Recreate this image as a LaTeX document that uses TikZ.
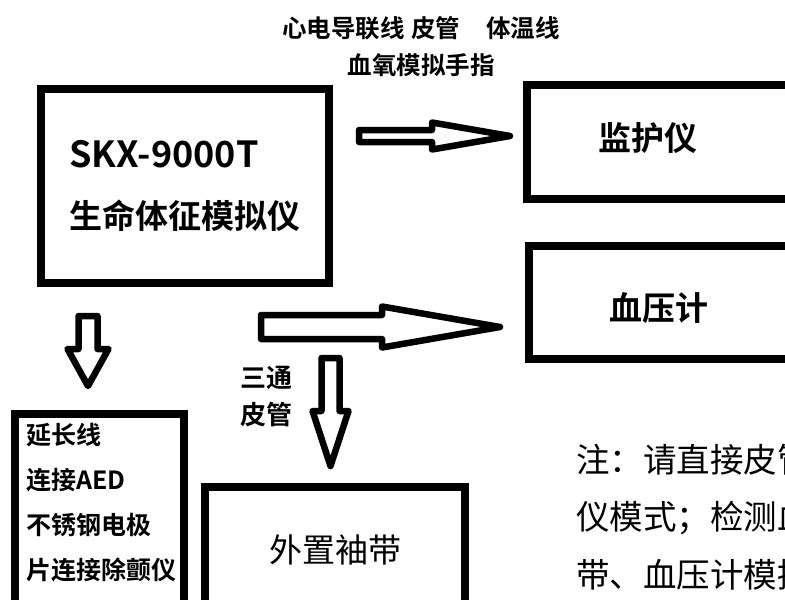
\documentclass[tikz,border=0pt]{standalone}
\usepackage{fontspec}
\setmainfont{Noto Sans CJK SC}[BoldFont={* Bold}]
\usetikzlibrary{calc}

% 空心箭头：起点，终点，杆半宽，头半宽，头长
\newcommand{\hollowarrow}[5]{%
  \path ($(#2)!#5!(#1)$) coordinate (hb);
  \draw[hollow] ($(#1)!#3!90:(#2)$) -- ($(hb)!#3!90:(#2)$) -- ($(hb)!#4!90:(#2)$) -- (#2)
    -- ($(hb)!#4!-90:(#2)$) -- ($(hb)!#3!-90:(#2)$) -- ($(#1)!#3!-90:(#2)$) -- cycle;%
}

\begin{document}
\begin{tikzpicture}[x=1pt, y=-1pt, every node/.style={align=center, inner sep=0pt}]
    % 样式
    \tikzstyle{device} = [rectangle, draw=black, line width=8pt]
    \tikzstyle{hollow} = [draw=black, line width=6.5pt, line join=round]
    \tikzstyle{title} = [font=\fontsize{33pt}{61pt}\selectfont\bfseries]
    \tikzstyle{cable} = [font=\fontsize{24.5pt}{37pt}\selectfont\bfseries]
    \tikzstyle{list} = [font=\fontsize{25pt}{45pt}\selectfont\bfseries]
    \tikzstyle{remark} = [font=\fontsize{33.5pt}{57.5pt}\selectfont]

    \useasboundingbox (0,0) rectangle (785,600);
    \clip (0,0) rectangle (785,600);

    % 设备方框
    \node[device, title, align=left, minimum width=288pt, minimum height=194pt] (sim) at (185,186) {\fontsize{36pt}{61pt}\selectfont SKX-9000T\\生命体征模拟仪};
    \node[device, minimum width=273pt, minimum height=114pt,
      label={[title, xshift=-15.5pt, yshift=4pt]center:监护仪}] (mon) at (663.5,142) {};
    \node[device, minimum width=271pt, minimum height=113pt,
      label={[title, xshift=-5.5pt, yshift=-5.5pt]center:血压计}] (bp) at (664.5,302.5) {};
    \node[device, minimum width=169pt, minimum height=206pt,
      label={[list, anchor=north west, align=left, xshift=15pt, yshift=-12.5pt]north west:延长线\\连接AED\\不锈钢电极\\片连接除颤仪}] (ext) at (99.5,517) {};
    \node[device, font=\fontsize{33pt}{40pt}\selectfont, minimum width=260pt, minimum height=126pt] (cuff) at (335,550) {外置袖带};

    % 文字说明
    \node[cable] (leads) at (421,46.5) {心电导联线\hspace{7pt}皮管\hspace{26pt}体温线\\血氧模拟手指};
    \node[font=\fontsize{26pt}{37pt}\selectfont\bfseries] (tube) at (266,396.5) {三通\\皮管};
    \node[remark, anchor=north west, align=left] (note) at (576,444) {注：请直接皮管\\仪模式；检测血\\带、血压计模拟};

    % 空心箭头
    \coordinate (t1) at (359,136);
    \coordinate (h1) at ($(mon.west |- t1)+(-13,0)$);
    \coordinate (t2) at (261,327);
    \coordinate (h2) at ($(bp.west |- t2)+(-25,0)$);
    \coordinate (t3) at (88,316);
    \coordinate (h3) at ($(t3 |- ext.north)+(0,-24)$);
    \coordinate (t4) at (330.5,358);
    \coordinate (h4) at ($(t4 |- cuff.north)+(0,-17)$);
    \hollowarrow{t1}{h1}{6pt}{13.5pt}{78pt}
    \hollowarrow{t2}{h2}{12pt}{20.5pt}{118pt}
    \hollowarrow{t3}{h3}{9.5pt}{20.5pt}{37pt}
    \hollowarrow{t4}{h4}{9pt}{18pt}{55pt}
\end{tikzpicture}
\end{document}
